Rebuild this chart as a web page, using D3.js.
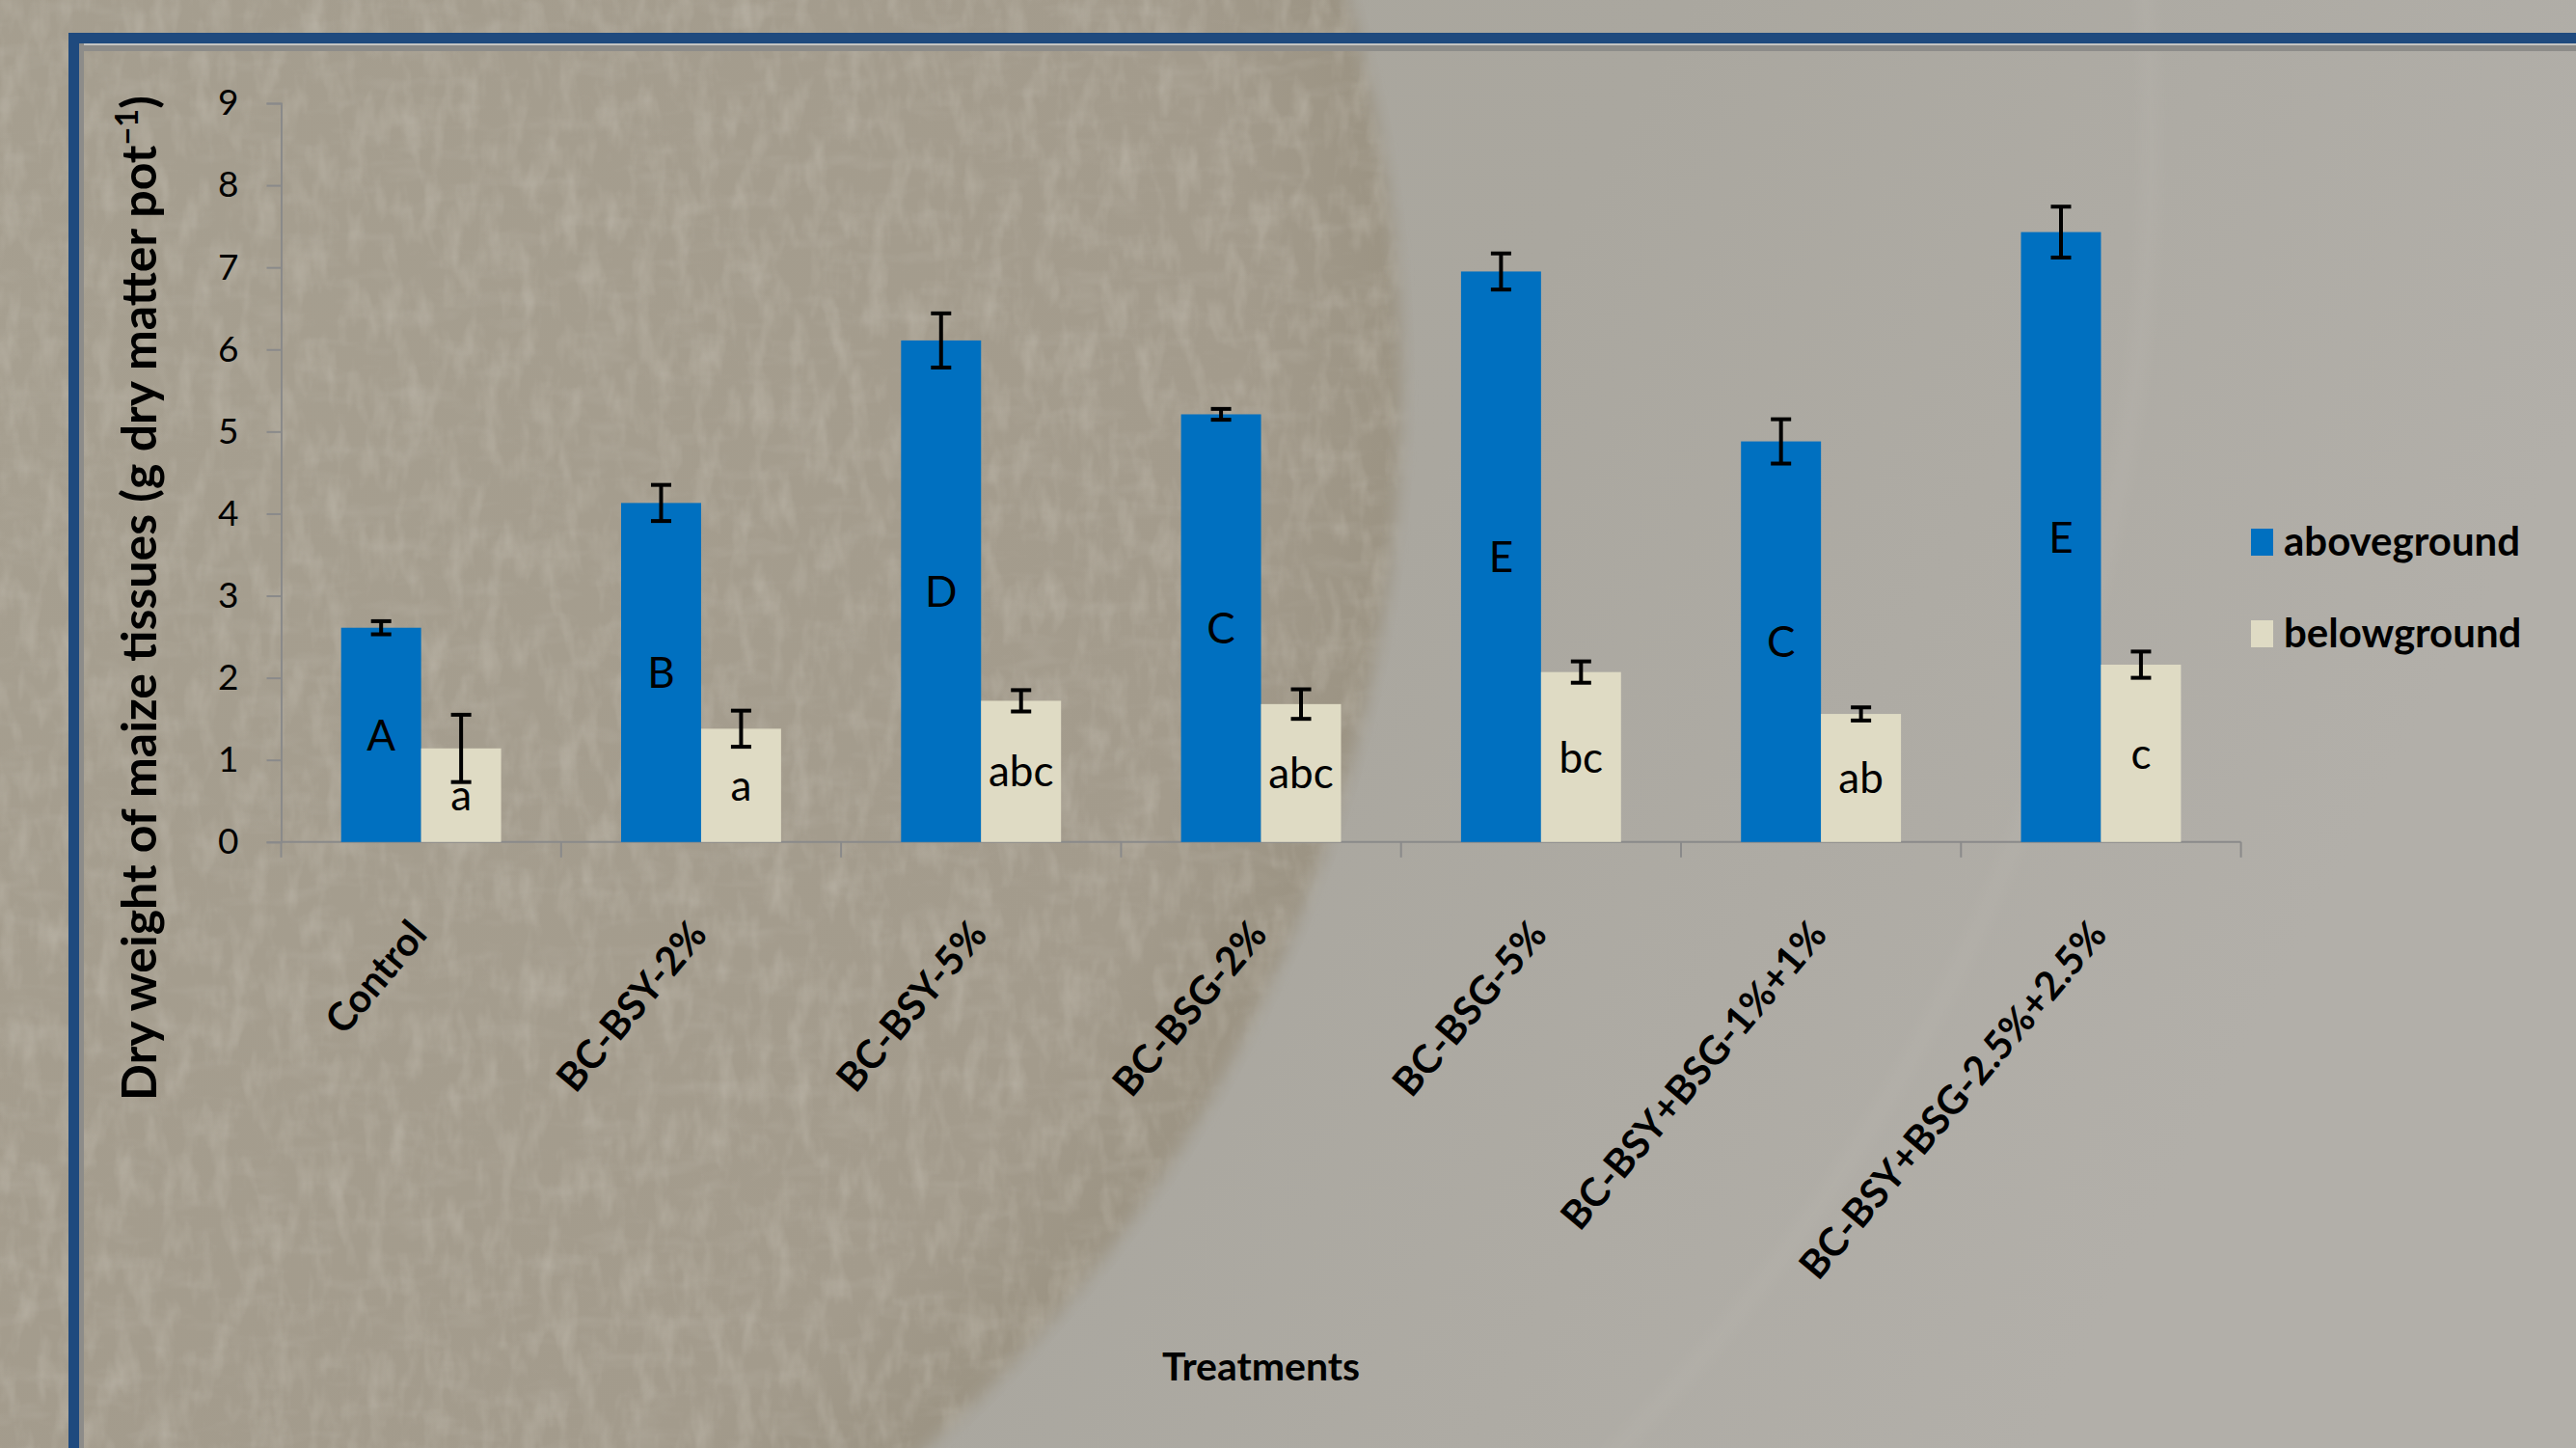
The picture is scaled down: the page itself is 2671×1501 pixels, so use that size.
<!DOCTYPE html>
<html>
<head>
<meta charset="utf-8">
<script src="https://cdn.jsdelivr.net/npm/d3@7"></script>
<style>
  html, body { margin: 0; padding: 0; background: #aca89f; overflow: hidden; }
  svg { display: block; }
  text { font-family: Lato, "Open Sans", sans-serif; fill: #000; }
</style>
</head>
<body>
<svg id="chart" width="2671" height="1501"></svg>
<script>
// ---------------- data ----------------
const categories = ["Control", "BC-BSY-2%", "BC-BSY-5%", "BC-BSG-2%", "BC-BSG-5%", "BC-BSY+BSG-1%+1%", "BC-BSY+BSG-2.5%+2.5%"];
const seriesNames = ["aboveground", "belowground"];
const aboveground = [2.61, 4.13, 6.11, 5.21, 6.95, 4.88, 7.43];
const abovegroundErr = [0.08, 0.22, 0.33, 0.066, 0.22, 0.27, 0.31];
const belowground = [1.14, 1.38, 1.72, 1.68, 2.07, 1.56, 2.16];
const belowgroundErr = [0.41, 0.22, 0.13, 0.18, 0.13, 0.08, 0.16];
const abovegroundLetters = ["A", "B", "D", "C", "E", "C", "E"];
const belowgroundLetters = ["a", "a", "abc", "abc", "bc", "ab", "c"];
const yTickValues = [0, 1, 2, 3, 4, 5, 6, 7, 8, 9];
const yTitle = "Dry weight of maize tissues (g dry matter pot";
const xTitle = "Treatments";

const colors = { aboveground: "#0070c0", belowground: "#dfdbc4" };

// ---------------- layout ----------------
const W = 2671, H = 1501;
const plot = { left: 291.5, right: 2323.6, top: 107, bottom: 872.8 };
const svg = d3.select("#chart");

// background
const defs = svg.append("defs");
const lg = defs.append("linearGradient").attr("id", "bgGrad").attr("x1", 0).attr("y1", 0).attr("x2", 1).attr("y2", 0.3);
lg.append("stop").attr("offset", 0).attr("stop-color", "#a8a498");
lg.append("stop").attr("offset", 0.6).attr("stop-color", "#aaa79f");
lg.append("stop").attr("offset", 1).attr("stop-color", "#b2afa9");

const rg = defs.append("radialGradient").attr("id", "dishGrad").attr("cx", 0.5).attr("cy", 0.5).attr("r", 0.5);
rg.append("stop").attr("offset", 0).attr("stop-color", "#a69f90");
rg.append("stop").attr("offset", 0.88).attr("stop-color", "#a39b8c");
rg.append("stop").attr("offset", 0.98).attr("stop-color", "#9c9484");
rg.append("stop").attr("offset", 1).attr("stop-color", "#9f9889");

const filt = defs.append("filter").attr("id", "tex").attr("x", 0).attr("y", 0).attr("width", 1).attr("height", 1);
filt.append("feTurbulence").attr("type", "fractalNoise").attr("baseFrequency", "0.05 0.02")
  .attr("numOctaves", 3).attr("seed", 7).attr("result", "n");
filt.append("feColorMatrix").attr("in", "n").attr("type", "matrix")
  .attr("values", "0 0 0 0 0.72  0 0 0 0 0.69  0 0 0 0 0.62  1.6 0 0 0 -0.72");

const filt2 = defs.append("filter").attr("id", "tex2").attr("x", 0).attr("y", 0).attr("width", 1).attr("height", 1);
filt2.append("feTurbulence").attr("type", "fractalNoise").attr("baseFrequency", "0.02 0.05")
  .attr("numOctaves", 3).attr("seed", 11).attr("result", "n");
filt2.append("feColorMatrix").attr("in", "n").attr("type", "matrix")
  .attr("values", "0 0 0 0 0.55  0 0 0 0 0.52  0 0 0 0 0.46  -1.6 0 0 0 0.8");

const blur = defs.append("filter").attr("id", "soft").attr("x", -0.1).attr("y", -0.1).attr("width", 1.2).attr("height", 1.2);
blur.append("feGaussianBlur").attr("stdDeviation", 8);

const dishC = { cx: -23, cy: 400, r: 1478 };
const mask = defs.append("mask").attr("id", "dishMask").attr("maskUnits", "userSpaceOnUse")
  .attr("x", 0).attr("y", 0).attr("width", W).attr("height", H);
mask.append("circle").attr("cx", dishC.cx).attr("cy", dishC.cy).attr("r", dishC.r).attr("fill", "#fff").attr("filter", "url(#soft)");

svg.append("rect").attr("width", W).attr("height", H).attr("fill", "url(#bgGrad)");
const dish = svg.append("g").attr("mask", "url(#dishMask)");
dish.append("circle").attr("cx", dishC.cx).attr("cy", dishC.cy).attr("r", dishC.r + 12).attr("fill", "url(#dishGrad)");
dish.append("rect").attr("width", W).attr("height", H).attr("filter", "url(#tex)").attr("opacity", 0.35);
dish.append("rect").attr("width", W).attr("height", H).attr("filter", "url(#tex2)").attr("opacity", 0.3);
// faint rim of the dish
svg.append("circle").attr("cx", 300).attr("cy", 150).attr("r", 1930)
  .attr("fill", "none").attr("stroke", "#b9b6af").attr("stroke-width", 12).attr("opacity", 0.45)
  .attr("filter", "url(#soft)");

// frame
svg.append("rect").attr("x", 82).attr("y", 45).attr("width", W).attr("height", 3).attr("fill", "#c4c4c2");
svg.append("rect").attr("x", 82).attr("y", 47).attr("width", W).attr("height", 6).attr("fill", "#8d8c89");
svg.append("rect").attr("x", 82).attr("y", 45).attr("width", 5).attr("height", H).attr("fill", "#8d8c89");
svg.append("rect").attr("x", 71).attr("y", 34).attr("width", W).attr("height", 11).attr("fill", "#1f4a7e");
svg.append("rect").attr("x", 71).attr("y", 34).attr("width", 11).attr("height", H).attr("fill", "#1f4a7e");

// ---------------- scales ----------------
const x0 = d3.scaleBand().domain(categories).range([plot.left, plot.right]).paddingInner(0).paddingOuter(0);
const x1 = d3.scaleBand().domain(seriesNames).range([0, x0.bandwidth()]).paddingInner(0).paddingOuter(0.75);
const y = d3.scaleLinear().domain([0, 9]).range([plot.bottom, plot.top]);

const axisColor = "#8a8a8a";

// y axis
const yAxis = svg.append("g").attr("transform", `translate(${plot.left},0)`)
  .call(d3.axisLeft(y).tickValues(yTickValues).tickSize(15).tickPadding(29).tickFormat(d3.format("d")));
yAxis.select(".domain").attr("stroke", axisColor).attr("stroke-width", 2);
yAxis.selectAll(".tick line").attr("stroke", axisColor).attr("stroke-width", 2);
yAxis.selectAll(".tick text").attr("font-family", "Lato, sans-serif").attr("font-size", 37).attr("fill", "#000");

// x axis (boundary ticks like Excel)
const xAxisG = svg.append("g");
xAxisG.append("line").attr("x1", plot.left).attr("x2", plot.right)
  .attr("y1", y(0)).attr("y2", y(0)).attr("stroke", axisColor).attr("stroke-width", 2);
const boundaries = categories.map(c => x0(c)).concat([x0(categories[categories.length - 1]) + x0.bandwidth()]);
xAxisG.selectAll("line.tk").data(boundaries).join("line").attr("class", "tk")
  .attr("x1", d => d).attr("x2", d => d).attr("y1", y(0)).attr("y2", y(0) + 16)
  .attr("stroke", axisColor).attr("stroke-width", 2);

// category labels
svg.append("g").selectAll("text").data(categories).join("text")
  .attr("transform", d => `translate(${x0(d) + x0.bandwidth() / 2 + 8},${y(0) + 97}) rotate(-50)`)
  .attr("text-anchor", "end")
  .attr("font-size", 41).attr("font-weight", "bold")
  .text(d => d);

// ---------------- bars ----------------
const rows = categories.map((c, i) => ({
  cat: c,
  items: [
    { s: "aboveground", v: aboveground[i], e: abovegroundErr[i], lab: abovegroundLetters[i] },
    { s: "belowground", v: belowground[i], e: belowgroundErr[i], lab: belowgroundLetters[i] }
  ]
}));

const groups = svg.append("g").selectAll("g").data(rows).join("g")
  .attr("transform", d => `translate(${x0(d.cat)},0)`);

groups.selectAll("rect").data(d => d.items).join("rect")
  .attr("x", d => x1(d.s)).attr("y", d => y(d.v))
  .attr("width", x1.bandwidth()).attr("height", d => y(0) - y(d.v))
  .attr("fill", d => colors[d.s]);

// letters
groups.selectAll("text.lab").data(d => d.items).join("text").attr("class", "lab")
  .attr("x", d => x1(d.s) + x1.bandwidth() / 2)
  .attr("y", d => y(d.v / 2))
  .attr("dy", "0.36em")
  .attr("text-anchor", "middle")
  .attr("font-size", 44)
  .text(d => d.lab);

// error bars
const capW = 21;
const eb = groups.selectAll("g.eb").data(d => d.items).join("g").attr("class", "eb")
  .attr("stroke", "#000").attr("stroke-width", 4);
eb.append("line")
  .attr("x1", d => x1(d.s) + x1.bandwidth() / 2).attr("x2", d => x1(d.s) + x1.bandwidth() / 2)
  .attr("y1", d => y(d.v + d.e)).attr("y2", d => y(d.v - d.e));
eb.append("line")
  .attr("x1", d => x1(d.s) + x1.bandwidth() / 2 - capW / 2).attr("x2", d => x1(d.s) + x1.bandwidth() / 2 + capW / 2)
  .attr("y1", d => y(d.v + d.e)).attr("y2", d => y(d.v + d.e));
eb.append("line")
  .attr("x1", d => x1(d.s) + x1.bandwidth() / 2 - capW / 2).attr("x2", d => x1(d.s) + x1.bandwidth() / 2 + capW / 2)
  .attr("y1", d => y(d.v - d.e)).attr("y2", d => y(d.v - d.e));

// ---------------- titles ----------------
const yt = svg.append("text")
  .attr("transform", `translate(162,620) rotate(-90)`)
  .attr("text-anchor", "middle").attr("font-weight", "bold").attr("font-size", 40);
yt.append("tspan").text(yTitle);
yt.append("tspan").attr("baseline-shift", "super").attr("font-size", 26).text("\u22121");
yt.append("tspan").text(")");
// fit the title to the reference length
const tl = yt.node().getComputedTextLength();
yt.attr("font-size", 40 * 1042 / tl);
yt.select("tspan:nth-child(2)").attr("font-size", 26 * 1042 / tl);

svg.append("text").attr("x", (plot.left + plot.right) / 2).attr("y", 1431)
  .attr("text-anchor", "middle").attr("font-weight", "bold").attr("font-size", 41)
  .text(xTitle);

// ---------------- legend ----------------
const legend = svg.append("g").selectAll("g").data(seriesNames).join("g")
  .attr("transform", (d, i) => `translate(2334,${548 + i * 95})`);
legend.append("rect").attr("width", 23).attr("height", 28).attr("fill", d => colors[d]);
legend.append("text").attr("x", 34).attr("y", 28).attr("font-size", 42).attr("font-weight", "bold").text(d => d);
</script>
</body>
</html>
